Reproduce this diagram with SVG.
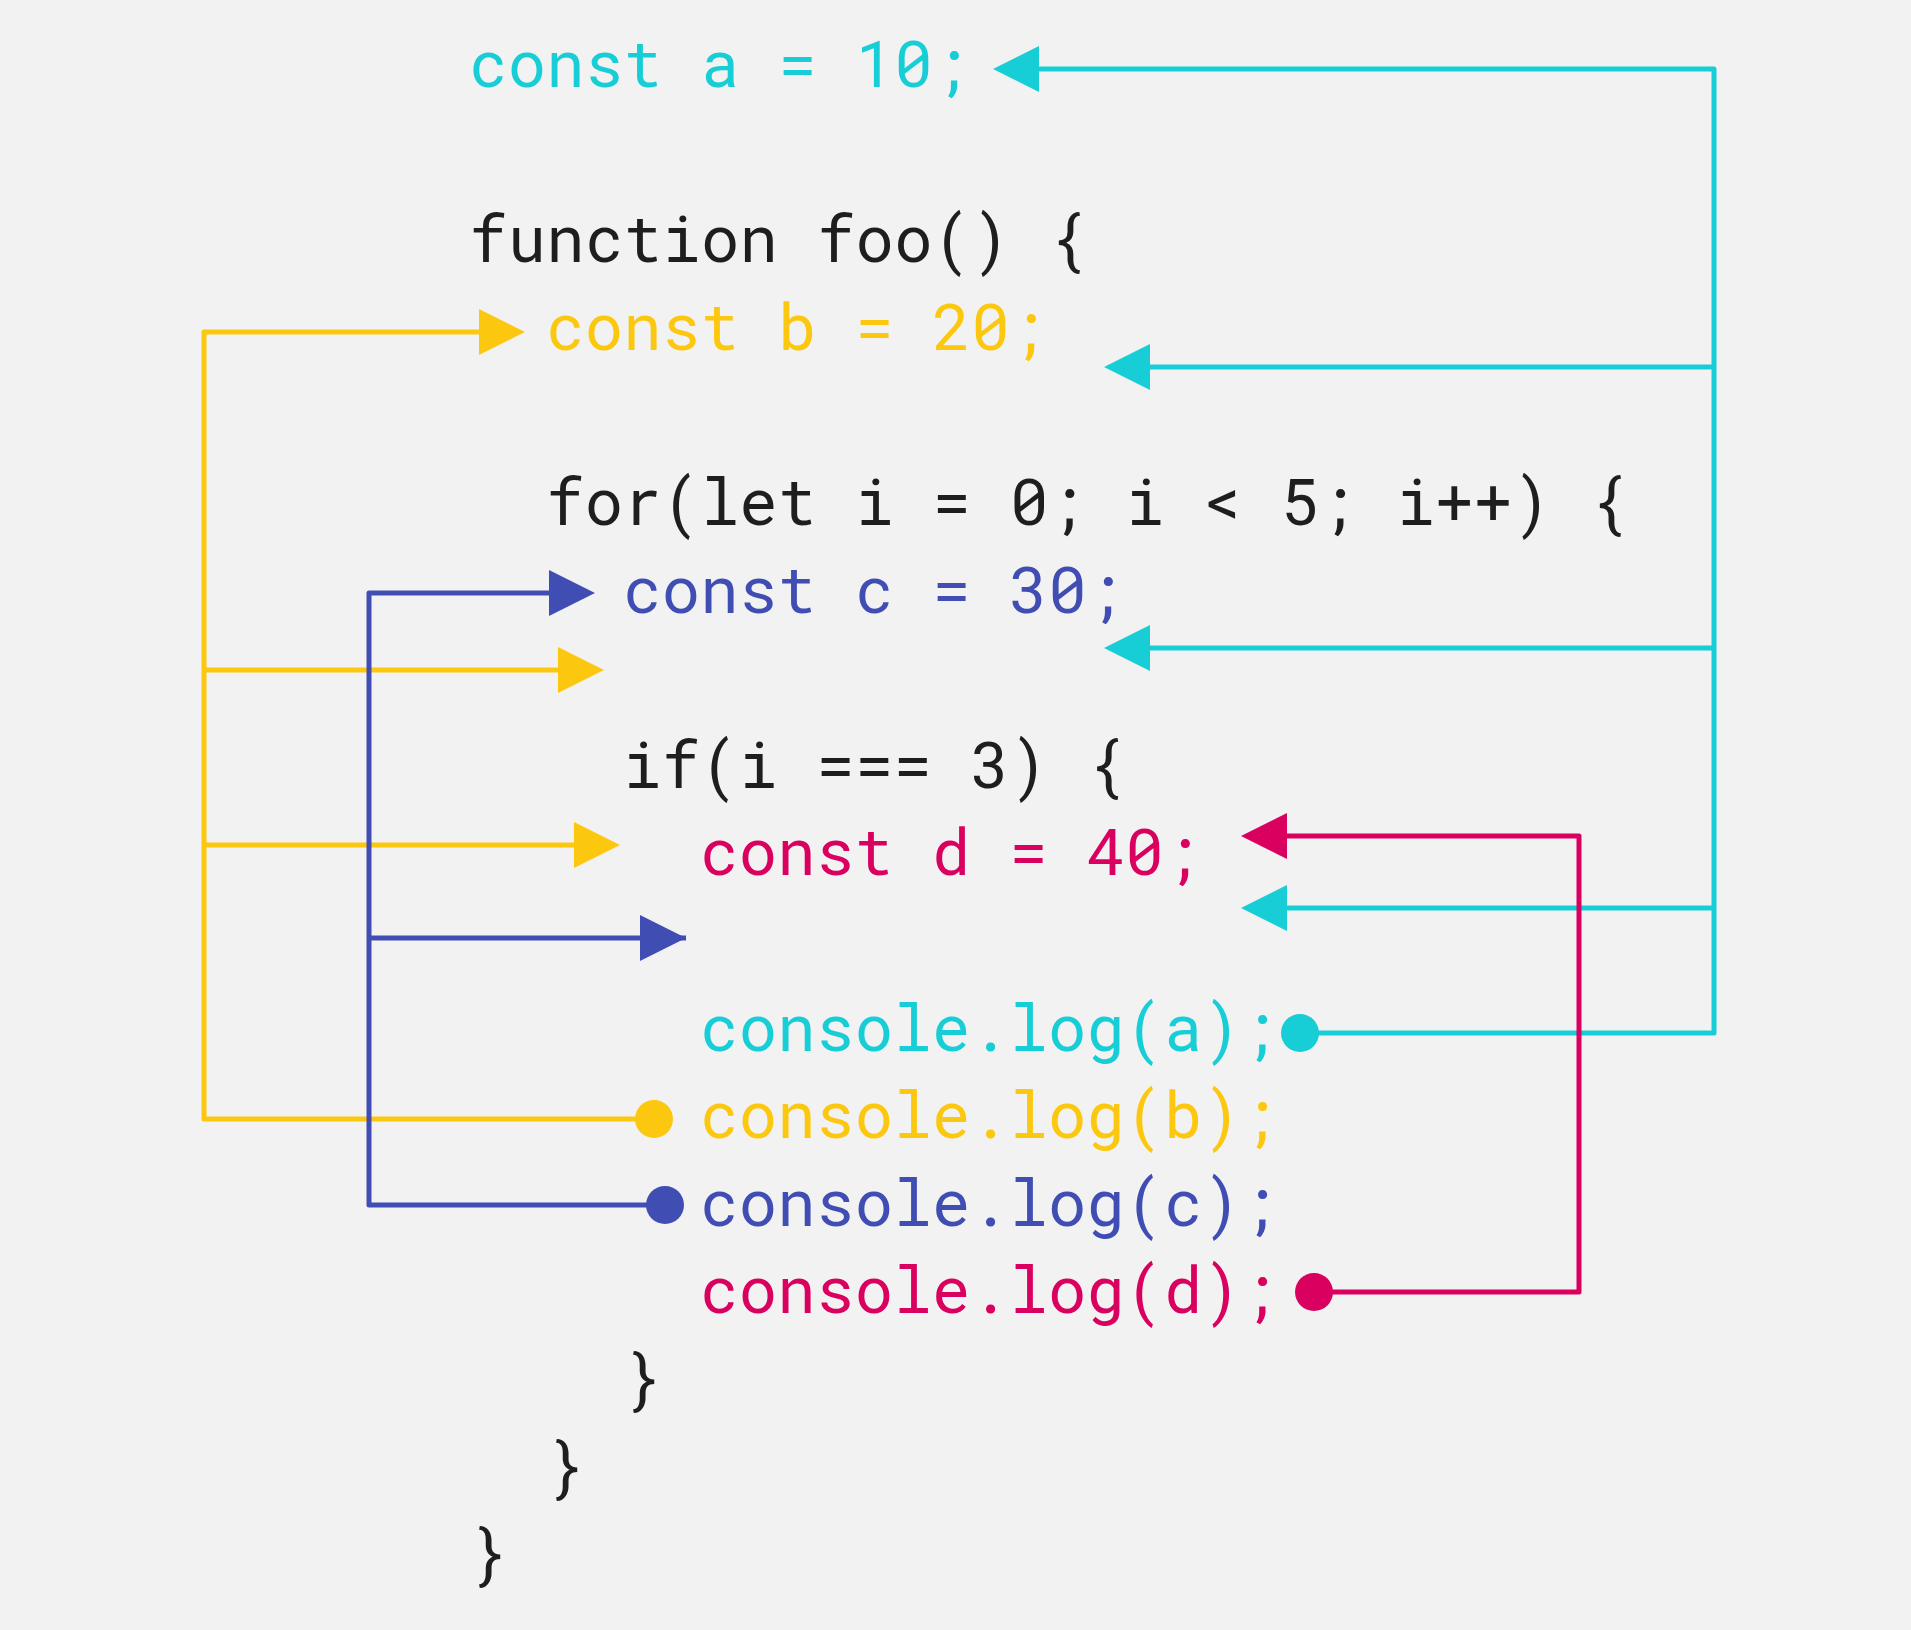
<svg xmlns="http://www.w3.org/2000/svg" width="1911" height="1630" viewBox="0 0 1911 1630">
  <style>
    .code { font-family: "Roboto Mono", "Liberation Mono", "DejaVu Sans Mono", monospace; font-size: 64px; letter-spacing: 0.25px; }
    .k { fill: #1e1e1e; }
    .cy { fill: #17cdd6; }
    .ye { fill: #fcc80f; }
    .bl { fill: #404db3; }
    .mg { fill: #d9005f; }
    .wire { fill: none; stroke-width: 5; stroke-linejoin: round; stroke-linecap: butt; }
  </style>
  <defs>
    <marker id="arCy" markerUnits="userSpaceOnUse" markerWidth="46" markerHeight="46" refX="0" refY="23" orient="auto" overflow="visible">
      <path d="M0,0 L46,23 L0,46 Z" fill="#17cdd6"/>
    </marker>
    <marker id="arYe" markerUnits="userSpaceOnUse" markerWidth="46" markerHeight="46" refX="0" refY="23" orient="auto" overflow="visible">
      <path d="M0,0 L46,23 L0,46 Z" fill="#fcc80f"/>
    </marker>
    <marker id="arBl" markerUnits="userSpaceOnUse" markerWidth="46" markerHeight="46" refX="0" refY="23" orient="auto" overflow="visible">
      <path d="M0,0 L46,23 L0,46 Z" fill="#404db3"/>
    </marker>
    <marker id="arBlTip" markerUnits="userSpaceOnUse" markerWidth="46" markerHeight="46" refX="46" refY="23" orient="auto" overflow="visible">
      <path d="M0,0 L46,23 L0,46 Z" fill="#404db3"/>
    </marker>
    <marker id="arMg" markerUnits="userSpaceOnUse" markerWidth="46" markerHeight="46" refX="0" refY="23" orient="auto" overflow="visible">
      <path d="M0,0 L46,23 L0,46 Z" fill="#d9005f"/>
    </marker>
    <marker id="dotCy" markerUnits="userSpaceOnUse" markerWidth="38" markerHeight="38" refX="19" refY="19" overflow="visible">
      <circle cx="19" cy="19" r="19" fill="#17cdd6"/>
    </marker>
    <marker id="dotYe" markerUnits="userSpaceOnUse" markerWidth="38" markerHeight="38" refX="19" refY="19" overflow="visible">
      <circle cx="19" cy="19" r="19" fill="#fcc80f"/>
    </marker>
    <marker id="dotBl" markerUnits="userSpaceOnUse" markerWidth="38" markerHeight="38" refX="19" refY="19" overflow="visible">
      <circle cx="19" cy="19" r="19" fill="#404db3"/>
    </marker>
    <marker id="dotMg" markerUnits="userSpaceOnUse" markerWidth="38" markerHeight="38" refX="19" refY="19" overflow="visible">
      <circle cx="19" cy="19" r="19" fill="#d9005f"/>
    </marker>
  </defs>
  <rect x="0" y="0" width="1911" height="1630" fill="#f2f2f2"/>

  <g id="connectors">
    <!-- cyan: a -->
    <path class="wire" stroke="#17cdd6" d="M1300,1033 H1714 V69 H1039" marker-start="url(#dotCy)" marker-end="url(#arCy)"/>
    <path class="wire" stroke="#17cdd6" d="M1714,367 H1150" marker-end="url(#arCy)"/>
    <path class="wire" stroke="#17cdd6" d="M1714,648 H1150" marker-end="url(#arCy)"/>
    <path class="wire" stroke="#17cdd6" d="M1714,908 H1287" marker-end="url(#arCy)"/>
    <!-- yellow: b -->
    <path class="wire" stroke="#fcc80f" d="M654,1119 H204 V332 H479" marker-start="url(#dotYe)" marker-end="url(#arYe)"/>
    <path class="wire" stroke="#fcc80f" d="M204,670 H558" marker-end="url(#arYe)"/>
    <path class="wire" stroke="#fcc80f" d="M204,845 H574" marker-end="url(#arYe)"/>
    <!-- blue: c -->
    <path class="wire" stroke="#404db3" d="M665,1205 H369 V593 H549" marker-start="url(#dotBl)" marker-end="url(#arBl)"/>
    <path class="wire" stroke="#404db3" d="M369,938 H686" marker-end="url(#arBlTip)"/>
    <!-- magenta: d -->
    <path class="wire" stroke="#d9005f" d="M1314,1292 H1579 V836 H1287" marker-start="url(#dotMg)" marker-end="url(#arMg)"/>
  </g>

  <g id="line-const-a"><text class="code cy" x="469" y="87">const a = 10;</text></g>
  <g id="line-function-foo"><text class="code k" x="469" y="262">function foo() {</text></g>
  <g id="line-const-b"><text class="code ye" x="546" y="350">const b = 20;</text></g>
  <g id="line-for"><text class="code k" x="546" y="525">for(let i = 0; i &lt; 5; i++) {</text></g>
  <g id="line-const-c"><text class="code bl" x="623" y="613">const c = 30;</text></g>
  <g id="line-if"><text class="code k" x="623" y="788">if(i === 3) {</text></g>
  <g id="line-const-d"><text class="code mg" x="700" y="875">const d = 40;</text></g>
  <g id="line-log-a"><text class="code cy" x="700" y="1051">console.log(a);</text></g>
  <g id="line-log-b"><text class="code ye" x="700" y="1138">console.log(b);</text></g>
  <g id="line-log-c"><text class="code bl" x="700" y="1226">console.log(c);</text></g>
  <g id="line-log-d"><text class="code mg" x="700" y="1313">console.log(d);</text></g>
  <g id="line-close-if"><text class="code k" x="623" y="1401">}</text></g>
  <g id="line-close-for"><text class="code k" x="546" y="1489">}</text></g>
  <g id="line-close-foo"><text class="code k" x="469" y="1576">}</text></g>
</svg>
